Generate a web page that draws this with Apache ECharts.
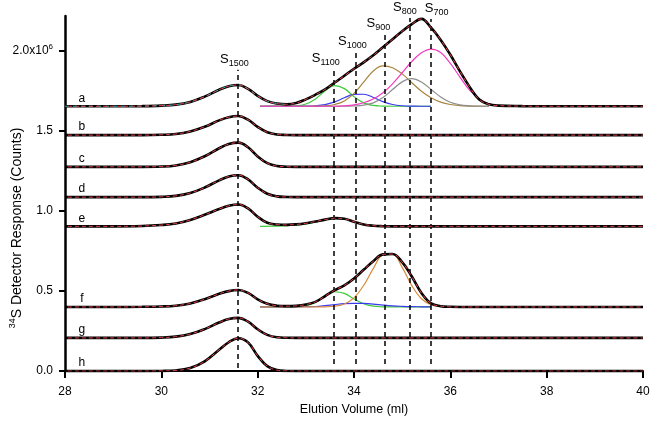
<!DOCTYPE html>
<html>
<head>
<meta charset="utf-8">
<script src="https://cdn.jsdelivr.net/npm/echarts@6/dist/echarts.min.js"></script>
<style>
  html, body { margin: 0; padding: 0; background: #fff; }
  #main { width: 657px; height: 421px; }
</style>
</head>
<body>
<div id="main"></div>
<script>
// elution volume grid (ml) shared by the traces
var vol = [28, 29, 29.6, 30.0, 30.3, 30.6, 30.9, 31.2, 31.4, 31.6, 31.8, 32.0, 32.2, 32.4, 32.6, 32.8,
  33.0, 33.2, 33.4, 33.6, 33.8, 34.0, 34.2, 34.4, 34.6, 34.8, 35.0, 35.2, 35.4, 35.6, 35.8, 36.0,
  36.2, 36.4, 36.6, 36.8, 37.0, 37.5, 38, 39, 40];

// trace offsets (x10^6 counts) and labels
var traceNames = ["a", "b", "c", "d", "e", "f", "g", "h"];
var baselines = [1.652, 1.472, 1.274, 1.085, 0.903, 0.400, 0.207, 0.000];

// signal above each baseline (x10^6 counts)
var traceA = [0, 0, 0.001, 0.004, 0.010, 0.027, 0.060, 0.103, 0.125, 0.133, 0.108, 0.065, 0.032, 0.017, 0.012,
  0.020, 0.043, 0.072, 0.105, 0.148, 0.190, 0.234, 0.274, 0.318, 0.368, 0.418, 0.468, 0.512, 0.545, 0.490,
  0.414, 0.321, 0.218, 0.121, 0.042, 0.012, 0.004, 0.001, 0, 0, 0];
var traceB = [0, 0, 0, 0.002, 0.007, 0.023, 0.052, 0.092, 0.112, 0.119, 0.096, 0.051, 0.018, 0.004, 0.001,
  0, 0, 0, 0, 0, 0, 0, 0, 0, 0, 0, 0, 0, 0, 0, 0, 0, 0, 0, 0, 0, 0, 0, 0, 0, 0];
var traceC = [0, 0, 0, 0.002, 0.009, 0.029, 0.066, 0.116, 0.142, 0.151, 0.122, 0.065, 0.023, 0.005, 0.001,
  0, 0, 0, 0, 0, 0, 0, 0, 0, 0, 0, 0, 0, 0, 0, 0, 0, 0, 0, 0, 0, 0, 0, 0, 0, 0];
var traceD = [0, 0, 0, 0.002, 0.008, 0.026, 0.060, 0.105, 0.129, 0.137, 0.111, 0.059, 0.021, 0.005, 0.001,
  0, 0, 0, 0, 0, 0, 0, 0, 0, 0, 0, 0, 0, 0, 0, 0, 0, 0, 0, 0, 0, 0, 0, 0, 0, 0];
var traceE = [0, 0, 0.002, 0.008, 0.018, 0.040, 0.072, 0.108, 0.128, 0.136, 0.112, 0.060, 0.022, 0.011, 0.009,
  0.012, 0.019, 0.030, 0.042, 0.051, 0.047, 0.029, 0.012, 0.004, 0.001,
  0, 0, 0, 0, 0, 0, 0, 0, 0, 0, 0, 0, 0, 0, 0, 0];
var traceF = [0, 0, 0.001, 0.003, 0.008, 0.022, 0.048, 0.082, 0.099, 0.106, 0.088, 0.048, 0.020, 0.008, 0.005,
  0.007, 0.015, 0.032, 0.068, 0.105, 0.135, 0.178, 0.232, 0.285, 0.328, 0.330, 0.280, 0.190, 0.087, 0.022,
  0.005, 0.001, 0, 0, 0, 0, 0, 0, 0, 0, 0];
var traceG = [0, 0, 0, 0.002, 0.008, 0.024, 0.055, 0.096, 0.118, 0.125, 0.101, 0.054, 0.019, 0.004, 0.001,
  0, 0, 0, 0, 0, 0, 0, 0, 0, 0, 0, 0, 0, 0, 0, 0, 0, 0, 0, 0, 0, 0, 0, 0, 0, 0];
var traceH = [0, 0, 0, 0.001, 0.004, 0.019, 0.061, 0.133, 0.180, 0.205, 0.179, 0.095, 0.031, 0.006, 0.001,
  0, 0, 0, 0, 0, 0, 0, 0, 0, 0, 0, 0, 0, 0, 0, 0, 0, 0, 0, 0, 0, 0, 0, 0, 0, 0];

// fitted components grid
var compVol = [32.05, 32.4, 32.8, 33.0, 33.2, 33.4, 33.6, 33.8, 34.0, 34.2, 34.4, 34.6, 34.8, 35.0,
  35.2, 35.4, 35.6, 35.8, 36.0, 36.2, 36.4, 36.6, 36.8, 37.0];

var aS1100 = [0, 0.001, 0.003, 0.014, 0.046, 0.096, 0.129, 0.110, 0.060, 0.021, 0.005, 0.001, 0, 0, 0, 0, 0];
var aS1000 = [0, 0, 0, 0.001, 0.003, 0.010, 0.027, 0.053, 0.074, 0.075, 0.055, 0.029, 0.011, 0.003, 0.001, 0, 0];
var aS900 = [0, 0, 0, 0, 0.001, 0.003, 0.011, 0.033, 0.080, 0.150, 0.220, 0.252, 0.240, 0.202, 0.147, 0.094,
  0.053, 0.026, 0.011, 0.004, 0.001, 0, 0];
var aS800 = [0, 0, 0, 0, 0, 0, 0, 0, 0.002, 0.007, 0.021, 0.054, 0.104, 0.152, 0.172, 0.151, 0.105, 0.058,
  0.025, 0.009, 0.003, 0.001, 0];
var aS700 = [0, 0, 0, 0, 0, 0, 0, 0.003, 0.009, 0.022, 0.045, 0.084, 0.140, 0.209, 0.279, 0.334, 0.357, 0.335,
  0.267, 0.182, 0.100, 0.045, 0.014, 0.004];
var eS1100 = [0, 0.001, 0.008, 0.015, 0.027, 0.040, 0.050, 0.047, 0.029, 0.012, 0.004, 0.001, 0, 0];
var fS1100 = [0, 0, 0.001, 0.006, 0.030, 0.070, 0.095, 0.085, 0.050, 0.020, 0.005, 0.001, 0, 0, 0, 0, 0];
var fS1000 = [0, 0, 0.001, 0.002, 0.003, 0.008, 0.015, 0.021, 0.023, 0.022, 0.018, 0.012, 0.007, 0.004, 0.002, 0.001, 0];
var fS900 = [0, 0, 0, 0, 0, 0.001, 0.005, 0.019, 0.057, 0.134, 0.239, 0.324, 0.330, 0.247, 0.133, 0.051, 0.014, 0.003];

// size markers: position (ml), label subscript, dashed line top and bottom (x10^6)
var markerVol = [31.58, 33.58, 34.03, 34.63, 35.16, 35.59];
var markerSub = ["1500", "1100", "1000", "900", "800", "700"];
var markerTop = [1.88, 1.887, 1.992, 2.103, 2.202, 2.196];
var markerBottom = [0.02, 0.045, 0.045, 0.045, 0.045, 0.045];
var markerShift = [-3, -8, -3, -6, -5, 6];

var FONT = "Liberation Sans";

function toPts(xs, ys, base) {
  return ys.map(function (v, i) { return [xs[i], base + v]; });
}

var traces = [traceA, traceB, traceC, traceD, traceE, traceF, traceG, traceH];
var comps = [
  { t: 0, v: aS1100, c: "#3ccc3c" },
  { t: 0, v: aS1000, c: "#3a3af0" },
  { t: 0, v: aS900, c: "#a8843e" },
  { t: 0, v: aS800, c: "#8e8e8e" },
  { t: 0, v: aS700, c: "#f03cc0" },
  { t: 4, v: eS1100, c: "#3ccc3c" },
  { t: 5, v: fS1100, c: "#3ccc3c" },
  { t: 5, v: fS1000, c: "#3a3af0" },
  { t: 5, v: fS900, c: "#d88a3c" }
];

var series = [];
comps.forEach(function (cp) {
  series.push({
    type: "line", data: toPts(compVol, cp.v, baselines[cp.t]), smooth: 0.4, symbol: "none",
    lineStyle: { color: cp.c, width: 1.2 }, silent: true, z: 2
  });
});
traces.forEach(function (tr, i) {
  series.push({
    type: "line", data: toPts(vol, tr, baselines[i]), smooth: 0.4, symbol: "none",
    lineStyle: { color: "#000", width: 2.6 }, silent: true, z: 3
  });
});
// cyan fit of the S1500 band in trace a
series.push({
  type: "line", data: toPts(vol.slice(0, 15), traceA.slice(0, 15), baselines[0]), smooth: 0.4, symbol: "none",
  lineStyle: { color: "#33b8b8", width: 1, type: [4, 4] }, silent: true, z: 4
});
traces.forEach(function (tr, i) {
  series.push({
    type: "line", data: toPts(vol, tr, baselines[i]), smooth: 0.4, symbol: "none",
    lineStyle: { color: "#e0404a", width: 1, type: [4, 3], dashOffset: 4 }, silent: true, z: 5
  });
});
// trace letters
series.push({
  type: "scatter", symbolSize: 0, silent: true, z: 6,
  itemStyle: { opacity: 1 },
  data: baselines.map(function (b, i) { return { value: [28.35, b], name: traceNames[i] }; }),
  label: {
    show: true, position: "top", distance: 2, formatter: "{b}",
    color: "#000", opacity: 1, fontFamily: FONT, fontSize: 12
  }
});
// dashed size markers
series.push({
  type: "line", data: [], silent: true,
  markLine: {
    symbol: ["none", "none"], silent: true, animation: false,
    lineStyle: { color: "#000", width: 1.5, type: [5, 4] },
    label: {
      show: true, position: "end", distance: 2, color: "#000", fontFamily: FONT,
      rich: {
        s: { fontSize: 13, lineHeight: 17, fontFamily: FONT, color: "#000" },
        b: { fontSize: 9, verticalAlign: "bottom", fontFamily: FONT, color: "#000" }
      }
    },
    data: markerVol.map(function (x, i) {
      return [
        { coord: [x, markerBottom[i]] },
        { coord: [x, markerTop[i]], label: { formatter: "{s|S}{b|" + markerSub[i] + "}", offset: [markerShift[i], 0] } }
      ];
    })
  }
});

var chart = echarts.init(document.getElementById("main"), null, { renderer: "canvas" });
chart.setOption({
  animation: false,
  backgroundColor: "#fff",
  grid: { left: 65, right: 14, top: 16, bottom: 47, containLabel: false },
  xAxis: {
    type: "value", min: 28, max: 40, interval: 2,
    name: "Elution Volume (ml)", nameLocation: "middle", nameGap: 29,
    nameTextStyle: { color: "#000", fontFamily: FONT, fontSize: 12.5 },
    axisLine: { lineStyle: { color: "#000", width: 2 } },
    axisTick: { inside: false, length: 7, lineStyle: { color: "#000", width: 2 } },
    axisLabel: { color: "#000", fontFamily: FONT, fontSize: 12, margin: 15 },
    splitLine: { show: false }
  },
  yAxis: {
    type: "value", min: 0, max: 2.215, interval: 0.5,
    axisLine: { show: true, lineStyle: { color: "#000", width: 2.5 } },
    axisTick: { show: true, inside: false, length: 6, lineStyle: { color: "#000", width: 2 },
      customValues: [0, 0.5, 1, 1.5, 2] },
    axisLabel: {
      color: "#000", fontFamily: FONT, fontSize: 12, margin: 12,
      customValues: [0, 0.5, 1, 1.5, 2],
      formatter: function (v) {
        return v === 2 ? "{n|2.0x10}{p|6}" : "{n|" + v.toFixed(1) + "}";
      },
      rich: {
        n: { fontSize: 12, lineHeight: 16, fontFamily: FONT, color: "#000" },
        p: { fontSize: 8, verticalAlign: "top", fontFamily: FONT, color: "#000" }
      }
    },
    splitLine: { show: false }
  },
  graphic: [{
    type: "text", x: 17, y: 228, rotation: Math.PI / 2, silent: true,
    style: {
      text: "{p|34}{t|S Detector Response (Counts)}",
      align: "center", verticalAlign: "middle", fill: "#000",
      rich: {
        t: { fontSize: 14, lineHeight: 18, fontFamily: FONT, fill: "#000" },
        p: { fontSize: 9, verticalAlign: "top", fontFamily: FONT, fill: "#000" }
      }
    }
  }],
  series: series
});
</script>
</body>
</html>
